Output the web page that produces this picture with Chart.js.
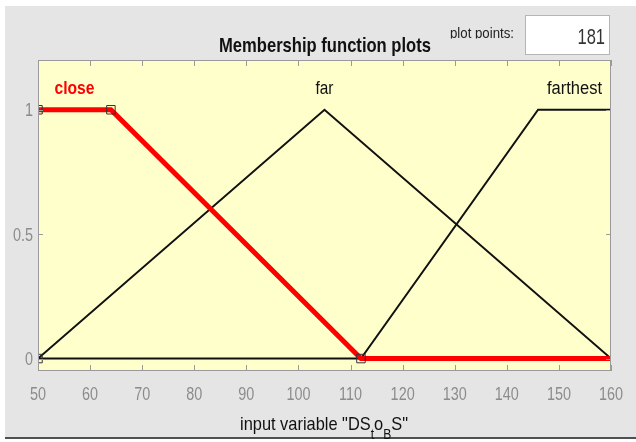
<!DOCTYPE html>
<html>
<head>
<meta charset="utf-8">
<script src="https://cdn.jsdelivr.net/npm/chart.js@4"></script>
<style>
  html, body { margin: 0; padding: 0; background: #ffffff; }
  #wrap { width: 636px; height: 442px; }
</style>
</head>
<body>
<div id="wrap"><canvas id="chart" width="636" height="442"></canvas></div>
<script>
// membership functions of input variable "DS_t o_B S"
const mfNames = ['close', 'far', 'farthest'];
const closeX = [50, 64, 112, 160];
const closeY = [1, 1, 0, 0];
const farX = [50, 105, 160];
const farY = [0, 1, 0];
const farthestX = [50, 112, 146, 160];
const farthestY = [0, 0, 1, 1];
// points of the selected MF (close)
const markerX = [50, 50, 64, 112];
const markerY = [0, 1, 1, 0];
// where the MF names sit
const labelX = [57, 105, 153];
const labelY = 1.065;
const yTicks = [0, 0.5, 1];
const plotPoints = '181';

const FONT = '"Liberation Sans", Arial, sans-serif';
const SQUEEZE = 0.8;   // the original text is very narrow

// draw text squeezed horizontally, either to a width or by a factor
function squeezedText(ctx, text, x, y, font, align, width, factor) {
    ctx.font = font;
    const s = width ? width / ctx.measureText(text).width : factor;
    ctx.save();
    ctx.translate(x, y);
    ctx.scale(s, 1);
    ctx.textAlign = align;
    ctx.fillText(text, 0, 0);
    ctx.restore();
}

function pts(xs, ys) {
    return xs.map((x, i) => ({ x: x, y: ys[i] }));
}

const framePlugin = {
    id: 'frame',
    beforeDraw(chart) {
        const ctx = chart.ctx;
        const a = chart.chartArea;
        ctx.save();
        ctx.fillStyle = '#ffffff';
        ctx.fillRect(0, 0, chart.width, chart.height);
        ctx.fillStyle = '#e5e5e5';
        ctx.fillRect(5, 6, chart.width - 5, 431);
        ctx.fillStyle = '#505050';
        ctx.fillRect(5, 437, chart.width - 5, 2);
        ctx.fillStyle = '#ffffcc';
        ctx.fillRect(a.left, a.top, a.right - a.left, a.bottom - a.top);
        ctx.restore();
    },
    afterDatasetsDraw(chart) {
        const ctx = chart.ctx;
        const a = chart.chartArea;
        const xs = chart.scales.x;
        const ys = chart.scales.y;
        ctx.save();
        ctx.strokeStyle = '#9a9a9a';
        ctx.lineWidth = 1;
        ctx.beginPath();
        xs.ticks.forEach(t => {
            const px = Math.round(xs.getPixelForValue(t.value)) + 0.5;
            ctx.moveTo(px, a.top); ctx.lineTo(px, a.top + 6);
            ctx.moveTo(px, a.bottom); ctx.lineTo(px, a.bottom - 6);
        });
        ys.ticks.forEach(t => {
            const py = Math.round(ys.getPixelForValue(t.value)) + 0.5;
            ctx.moveTo(a.left, py); ctx.lineTo(a.left + 5, py);
            ctx.moveTo(a.right, py); ctx.lineTo(a.right - 5, py);
        });
        ctx.stroke();
        ctx.strokeRect(a.left + 0.5, a.top + 0.5, a.right - a.left - 1, a.bottom - a.top - 1);
        ctx.restore();
    },
    afterDraw(chart) {
        const ctx = chart.ctx;
        const a = chart.chartArea;
        const xs = chart.scales.x;
        const ys = chart.scales.y;
        ctx.save();
        ctx.textBaseline = 'alphabetic';

        // tick labels
        ctx.fillStyle = '#8c8c8c';
        xs.ticks.forEach(t => {
            squeezedText(ctx, String(t.value), xs.getPixelForValue(t.value), 400,
                '18px ' + FONT, 'center', 0, SQUEEZE);
        });
        ys.ticks.forEach(t => {
            squeezedText(ctx, String(t.value), a.left - 5, ys.getPixelForValue(t.value) + 6.5,
                '18px ' + FONT, 'right', 0, SQUEEZE);
        });

        // MF names
        const nameWidths = [40, 18, 55];
        mfNames.forEach((name, i) => {
            ctx.fillStyle = i === 0 ? '#ff0000' : '#111111';
            squeezedText(ctx, name, xs.getPixelForValue(labelX[i]), ys.getPixelForValue(labelY),
                (i === 0 ? 'bold ' : '') + '18px ' + FONT, 'center', nameWidths[i]);
        });

        // title
        ctx.fillStyle = '#111111';
        squeezedText(ctx, 'Membership function plots', 325, 52, 'bold 21px ' + FONT, 'center', 212);

        // "plot points:" (descenders cut off like the original)
        ctx.save();
        ctx.beginPath();
        ctx.rect(440, 20, 80, 18.5);
        ctx.clip();
        ctx.fillStyle = '#222222';
        squeezedText(ctx, 'plot points:', 514, 38, '14px ' + FONT, 'right', 64);
        ctx.restore();

        // input box
        ctx.fillStyle = '#ffffff';
        ctx.fillRect(525, 15, 85, 40);
        ctx.strokeStyle = '#b5b5b5';
        ctx.lineWidth = 1;
        ctx.strokeRect(525.5, 15.5, 84, 39);
        ctx.fillStyle = '#333333';
        squeezedText(ctx, plotPoints, 605, 44, '22px ' + FONT, 'right', 0, 0.75);

        // x axis title with subscripts
        const parts = [
            ['input variable "DS', 0], ['t', 1], ['o', 0], ['B', 1], ['S"', 0]
        ];
        const big = '19px ' + FONT;
        const small = '14px ' + FONT;
        let total = 0;
        parts.forEach(p => { ctx.font = p[1] ? small : big; total += ctx.measureText(p[0]).width; });
        const s = 168 / total;
        ctx.save();
        ctx.translate(240, 0);
        ctx.scale(s, 1);
        ctx.textAlign = 'left';
        ctx.fillStyle = '#111111';
        let x = 0;
        parts.forEach(p => {
            ctx.font = p[1] ? small : big;
            ctx.fillText(p[0], x, p[1] ? 439 : 430);
            x += ctx.measureText(p[0]).width;
        });
        ctx.restore();
        ctx.restore();
    }
};

const ctx = document.getElementById('chart').getContext('2d');
new Chart(ctx, {
    type: 'scatter',
    data: {
        datasets: [
            {
                label: 'markers',
                data: pts(markerX, markerY),
                showLine: false,
                pointStyle: 'rect',
                pointRadius: 6,
                pointBackgroundColor: 'rgba(0,0,0,0)',
                pointBorderColor: '#333333',
                pointBorderWidth: 1,
                order: 0
            },
            {
                label: mfNames[0],
                data: pts(closeX, closeY),
                showLine: true,
                borderColor: '#ff0000',
                borderWidth: 5,
                pointRadius: 0,
                order: 1
            },
            {
                label: mfNames[1],
                data: pts(farX, farY),
                showLine: true,
                borderColor: '#111111',
                borderWidth: 2,
                pointRadius: 0,
                order: 2
            },
            {
                label: mfNames[2],
                data: pts(farthestX, farthestY),
                showLine: true,
                borderColor: '#111111',
                borderWidth: 2,
                pointRadius: 0,
                order: 3
            }
        ]
    },
    options: {
        responsive: false,
        animation: false,
        layout: { padding: { top: 60, right: 25, left: 0, bottom: 0 } },
        plugins: {
            legend: { display: false },
            tooltip: { enabled: false }
        },
        scales: {
            x: {
                type: 'linear',
                min: 50,
                max: 160,
                grid: { display: false, drawTicks: false },
                border: { display: false },
                ticks: { display: false, stepSize: 10 },
                afterFit: s => { s.height = 71; }
            },
            y: {
                min: -0.05,
                max: 1.2,
                grid: { display: false, drawTicks: false },
                border: { display: false },
                afterBuildTicks: s => { s.ticks = yTicks.map(v => ({ value: v })); },
                ticks: { display: false },
                afterFit: s => { s.width = 38; }
            }
        }
    },
    plugins: [framePlugin]
});
</script>
</body>
</html>
